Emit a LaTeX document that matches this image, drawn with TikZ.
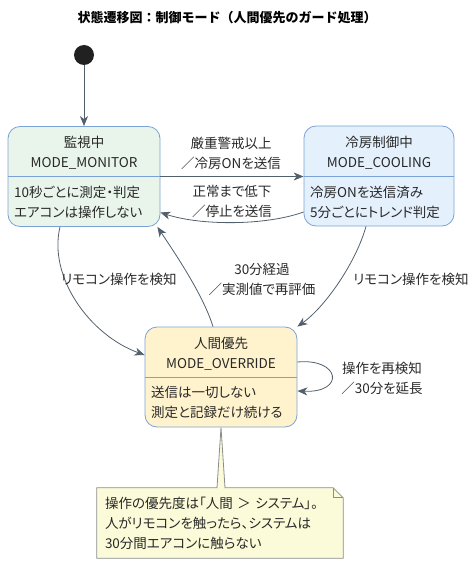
\documentclass[tikz,border=0pt]{standalone}
\usepackage{fontspec}
\setmainfont{Noto Sans CJK JP}[RawFeature=+palt]
\newfontfamily\titlefont{Noto Sans CJK JP}
\usetikzlibrary{arrows.meta,calc}
\definecolor{linecol}{RGB}{82,96,108}
\definecolor{boxcol}{RGB}{122,162,212}
\definecolor{txtcol}{RGB}{40,40,40}
\definecolor{monfill}{RGB}{233,245,234}
\definecolor{coolfill}{RGB}{228,241,253}
\definecolor{ovrfill}{RGB}{255,243,206}
\definecolor{notefill}{RGB}{251,251,217}
\definecolor{notecol}{RGB}{140,140,140}

\begin{document}
\begin{tikzpicture}[x=1pt,y=-1pt,
  every node/.style={font=\fontsize{13.5}{20}\selectfont, text=txtcol, inner sep=0pt},
  statebox/.style={draw=boxcol, line width=0.8pt, rounded corners=12pt, minimum width=152pt, minimum height=100pt},
  trans/.style={draw=linecol, line width=0.8pt, -{Stealth[length=10pt,width=8pt,inset=3pt]}},
  lbl/.style={align=center}]
\useasboundingbox (0,0) rectangle (475,564);
\node[font=\titlefont\fontsize{13}{16}\selectfont\bfseries, text=black] (title) at (227,18) {状態遷移図：制御モード（人間優先のガード処理）};
\node[circle, fill=black!87, minimum size=20pt] (start) at (84,55) {};

\node[statebox, fill=monfill] (monitor) at (84,176.5) {};
\node[statebox, fill=coolfill, minimum width=150pt] (cooling) at (379,176) {};
\node[statebox, fill=ovrfill] (override) at (221,377) {};
\draw[boxcol, line width=0.8pt] (monitor.west) -- (monitor.east);
\draw[boxcol, line width=0.8pt] (cooling.west) -- (cooling.east);
\draw[boxcol, line width=0.8pt] (override.west) -- (override.east);

\node[lbl] (monname) at (84,152.5) {監視中\\MODE\_MONITOR};
\node[align=left, anchor=west] (monbody) at (14,202.5) {10秒ごとに測定・判定\\エアコンは操作しない};
\node[lbl] (coolname) at (379,152.5) {冷房制御中\\MODE\_COOLING};
\node[align=left, anchor=west] (coolbody) at (310,202.5) {冷房ONを送信済み\\5分ごとにトレンド判定};
\node[lbl] (ovrname) at (221,353.5) {人間優先\\MODE\_OVERRIDE};
\node[align=left, anchor=west] (ovrbody) at (151,402.5) {送信は一切しない\\測定と記録だけ続ける};

\node[minimum width=246pt, minimum height=70pt, text width=230pt, align=left] (note) at (220,523) {};
\filldraw[fill=notefill, draw=notecol, line width=0.8pt] (note.north west) -- ($(override.south |- note.north)+(-4,0)$) -- (override.south) -- ($(override.south |- note.north)+(4,0)$) -- ([xshift=-10pt]note.north east) -- ([yshift=-10pt]note.north east) -- (note.south east) -- (note.south west) -- cycle;
\draw[notecol, line width=0.8pt] ([xshift=-10pt]note.north east) |- ([yshift=-10pt]note.north east);
\node[text width=230pt, align=left] (notetext) at (note) {操作の優先度は「人間 ＞ システム」。\\人がリモコンを触ったら、システムは\\30分間エアコンに触らない};

\draw[trans] (start) -- (start |- monitor.north);
\draw[trans] (monitor.east) -- (monitor.east -| cooling.west);
\draw[trans] ([yshift=-36pt]cooling.west) .. controls +(-39,14) and +(40,13) .. ([yshift=-36pt]monitor.east);
\draw[trans] ([xshift=-24pt]monitor.south) .. controls +(-12,50) and +(-55,-20) .. ([yshift=22pt]override.west);
\draw[trans] ([xshift=-8pt]override.north) .. controls +(-10,-32) and +(18,27) .. ([xshift=-3pt]monitor.south east);
\draw[trans] ([xshift=-13pt]cooling.south) .. controls +(-10,36) and +(28,-20) .. (override.north east);
\draw[trans] ([yshift=15pt]override.east) .. controls +(43,-4) and +(48,2) .. ([yshift=-14pt]override.east);

\node[lbl] (lblup) at (231,153) {厳重警戒以上\\／冷房ONを送信};
\node[lbl] (lbldown) at (232,201) {正常まで低下\\／停止を送信};
\node[lbl] (lblremote) at (119,279) {リモコン操作を検知};
\node[lbl] (lblback) at (262,279) {30分経過\\／実測値で再評価};
\node[lbl] (lblremote2) at (411,279) {リモコン操作を検知};
\node[lbl] (lblextend) at (382,378) {操作を再検知\\／30分を延長};
\end{tikzpicture}
\end{document}
